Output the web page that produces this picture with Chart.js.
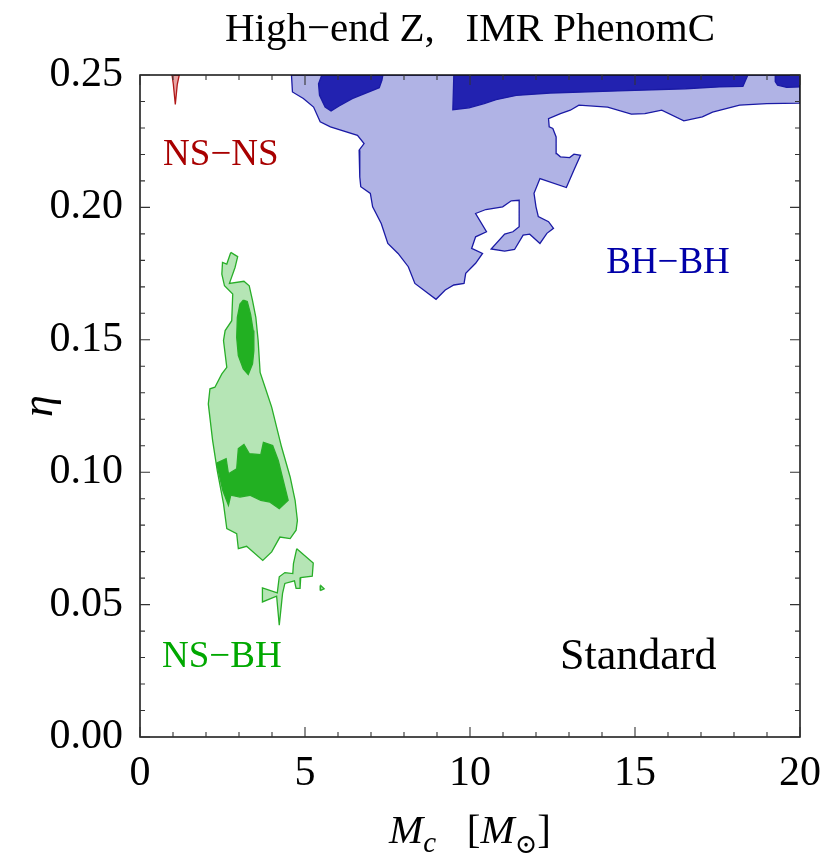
<!DOCTYPE html>
<html>
<head>
<meta charset="utf-8">
<script src="https://cdn.jsdelivr.net/npm/chart.js@4.4.1/dist/chart.umd.min.js"></script>
<style>
  html, body { margin: 0; padding: 0; background: #fff; }
</style>
</head>
<body>
<canvas id="contourChart" width="823" height="859"></canvas>
<script>
// axis ranges / tick spacing
var xMin = 0, xMax = 20, xMajor = 5, xMinor = 1;
var yMin = 0, yMax = 0.25, yMajor = 0.05, yMinor = 0.01;

// contour outlines, [Mc, eta]
var bhOuter = [
  [4.59,0.25],[4.62,0.2436],[4.95,0.2411],[5.26,0.2379],[5.46,0.2323],[5.77,0.2304],
  [6.59,0.2272],[6.79,0.2241],[6.64,0.2216],[6.66,0.2115],[6.69,0.2078],[6.98,0.2053],
  [7.05,0.2002],[7.31,0.1939],[7.51,0.1864],[7.82,0.1826],[8.13,0.1776],[8.33,0.1713],
  [8.97,0.1653],[9.25,0.1688],[9.51,0.1707],[9.82,0.1713],[9.87,0.1751],[10.17,0.1789],
  [10.38,0.1826],[10.05,0.1845],[10.17,0.1889],[10.50,0.1908],[10.17,0.1977],[10.48,0.1992],
  [10.99,0.2002],[11.25,0.2025],[11.49,0.2027],[11.49,0.1927],[11.30,0.1908],[11.05,0.1899],
  [10.64,0.1843],[11.05,0.1835],[11.35,0.1841],[11.61,0.1895],[11.81,0.1899],[12.12,0.1864],
  [12.33,0.1902],[12.53,0.1921],[12.38,0.1946],[12.07,0.1965],[12.00,0.2002],[11.94,0.2053],
  [12.12,0.2109],[12.92,0.2075],[13.15,0.2141],[13.35,0.2197],[13.15,0.2201],[13.02,0.2188],
  [12.74,0.2191],[12.63,0.2203],[12.61,0.2266],[12.51,0.2298],[12.40,0.2304],[12.38,0.2335],
  [12.74,0.2354],[13.04,0.2367],[13.30,0.2386],[14.17,0.2379],[14.89,0.2352],[15.30,0.2354],
  [15.81,0.2367],[16.48,0.2327],[17.04,0.2342],[17.35,0.2360],[18.17,0.2386],[18.99,0.2392],
  [20,0.2394],[20,0.25],[4.59,0.25]
];
var bhInnerA = [
  [5.51,0.25],[5.41,0.2467],[5.44,0.2423],[5.61,0.2379],[5.79,0.2364],[6.02,0.2382],
  [6.43,0.2411],[7.25,0.2452],[7.33,0.2480],[7.36,0.25],[5.51,0.25]
];
var bhInnerB = [
  [9.51,0.25],[9.48,0.2369],[9.97,0.2376],[10.43,0.2392],[10.79,0.2407],[11.40,0.2423],
  [12.43,0.2432],[14.48,0.2440],[16.53,0.2448],[17.55,0.2455],[18.27,0.2457],[18.42,0.25],[9.51,0.25]
];
var bhInnerC = [
  [19.27,0.25],[19.25,0.2475],[19.32,0.2462],[19.6,0.2453],[20,0.2455],[20,0.25],[19.27,0.25]
];
var nsnsOuter = [
  [0.97,0.25],[1.01,0.2465],[1.07,0.2389],[1.13,0.2465],[1.19,0.25],[0.97,0.25]
];
var nsbhOuterA = [
  [2.75,0.1830],[2.96,0.1814],[2.88,0.1773],[2.71,0.1713],[3.15,0.1721],[3.31,0.1704],
  [3.41,0.1648],[3.51,0.1585],[3.58,0.1497],[3.64,0.1377],[3.79,0.1321],[3.99,0.1246],
  [4.29,0.1095],[4.55,0.0982],[4.70,0.0894],[4.77,0.0818],[4.73,0.0781],[4.55,0.0749],
  [4.24,0.0755],[3.99,0.0699],[3.72,0.0667],[3.23,0.0720],[2.98,0.0711],[2.93,0.0768],
  [2.63,0.0787],[2.53,0.0881],[2.34,0.1007],[2.20,0.1120],[2.07,0.1258],[2.12,0.1315],
  [2.27,0.1321],[2.48,0.1371],[2.63,0.1396],[2.53,0.1497],[2.58,0.1535],[2.78,0.1572],
  [2.81,0.1673],[2.56,0.1704],[2.48,0.1748],[2.50,0.1792],[2.63,0.1786],[2.75,0.1830]
];
var nsbhOuterB = [
  [4.75,0.0711],[5.25,0.0657],[5.22,0.0607],[4.87,0.0602],[4.85,0.0561],[4.73,0.0561],
  [4.68,0.0590],[4.39,0.0580],[4.32,0.0542],[4.22,0.0422],[4.14,0.0532],[3.71,0.0510],
  [3.71,0.0563],[4.16,0.0544],[4.22,0.0605],[4.39,0.0621],[4.63,0.0617],[4.65,0.0655],[4.75,0.0711]
];
var nsbhOuterC = [
  [5.46,0.0553],[5.58,0.0560],[5.48,0.0572],[5.46,0.0553]
];
var nsbhInnerA = [
  [3.13,0.1650],[3.25,0.1645],[3.35,0.1597],[3.43,0.1535],[3.45,0.1459],[3.41,0.1409],
  [3.28,0.1369],[3.13,0.1390],[2.98,0.1440],[2.93,0.1509],[2.95,0.1585],[3.03,0.1635],[3.13,0.1650]
];
var nsbhInnerB = [
  [2.32,0.1034],[2.61,0.1051],[2.68,0.0994],[2.93,0.1013],[2.98,0.1089],[3.15,0.1105],
  [3.31,0.1070],[3.66,0.1066],[3.74,0.1113],[4.02,0.1101],[4.19,0.1044],[4.34,0.0969],
  [4.49,0.0894],[4.22,0.0862],[3.94,0.0887],[3.66,0.0894],[3.33,0.0913],[3.03,0.0906],
  [2.75,0.0913],[2.68,0.0875],[2.51,0.0931],[2.32,0.1034]
];

// text labels placed in data coordinates
var regionLabels = [
  { text: 'NS\u2212NS', x: 2.45, y: 0.2195, color: '#a80000' },
  { text: 'BH\u2212BH', x: 16.0, y: 0.179, color: '#0000a8' },
  { text: 'NS\u2212BH', x: 2.48, y: 0.030, color: '#00a800' },
  { text: 'Standard', x: 15.1, y: 0.030, color: '#000000' }
];
var titleText = 'High\u2212end Z,   IMR PhenomC';

var SERIF = '"Liberation Serif", "DejaVu Serif", serif';

function pts(arr) {
  return arr.map(function (p) { return { x: p[0], y: p[1] }; });
}

// order: lower value is drawn on top
function region(data, fillColor, lineColor, order) {
  return {
    data: pts(data),
    showLine: true,
    fill: 'shape',
    backgroundColor: fillColor,
    borderColor: lineColor,
    borderWidth: 1.3,
    pointRadius: 0,
    tension: 0,
    order: order
  };
}

var lightBlue = '#b0b3e5', darkBlue = '#2222b0', blueLine = '#1a1aa5';
var lightGreen = '#b5e5b5', darkGreen = '#22b022', greenLine = '#28ae28';
var lightRed = '#e8a4a4', redLine = '#b01818';

var decor = {
  id: 'decor',
  afterDraw: function (chart) {
    var ctx = chart.ctx, a = chart.chartArea;
    var xs = chart.scales.x, ys = chart.scales.y;
    ctx.save();
    // frame
    ctx.strokeStyle = '#111';
    ctx.lineWidth = 1.5;
    ctx.strokeRect(a.left, a.top, a.right - a.left, a.bottom - a.top);
    // inward ticks on all four sides
    ctx.lineWidth = 1.1;
    ctx.strokeStyle = '#333';
    ctx.beginPath();
    var i, v, p, len;
    for (i = 0; i <= Math.round((xMax - xMin) / xMinor); i++) {
      v = xMin + i * xMinor;
      p = xs.getPixelForValue(v);
      len = (i % (xMajor / xMinor) === 0) ? 10 : 5;
      ctx.moveTo(p, a.bottom); ctx.lineTo(p, a.bottom - len);
      ctx.moveTo(p, a.top); ctx.lineTo(p, a.top + len);
    }
    for (i = 0; i <= Math.round((yMax - yMin) / yMinor); i++) {
      v = yMin + i * yMinor;
      p = ys.getPixelForValue(v);
      len = (i % Math.round(yMajor / yMinor) === 0) ? 10 : 5;
      ctx.moveTo(a.left, p); ctx.lineTo(a.left + len, p);
      ctx.moveTo(a.right, p); ctx.lineTo(a.right - len, p);
    }
    ctx.stroke();

    // region labels
    ctx.textAlign = 'center';
    ctx.textBaseline = 'middle';
    regionLabels.forEach(function (l) {
      ctx.fillStyle = l.color;
      ctx.font = (l.text === 'Standard' ? '44px ' : '37px ') + SERIF;
      ctx.fillText(l.text, xs.getPixelForValue(l.x), ys.getPixelForValue(l.y));
    });

    // title
    ctx.fillStyle = '#000';
    ctx.font = '41px ' + SERIF;
    ctx.fillText(titleText, (a.left + a.right) / 2, 30);

    // x axis title: M_c  [M_sun]
    var parts = [
      { t: 'M', f: 'italic 41px ', dy: 0 },
      { t: 'c', f: 'italic 29px ', dy: 9 },
      { t: '   [', f: '41px ', dy: 0 },
      { t: 'M', f: 'italic 41px ', dy: 0 },
      { t: '\u2299', f: '27px ', dy: 10 },
      { t: ']', f: '41px ', dy: 0 }
    ];
    var total = 0;
    parts.forEach(function (q) { ctx.font = q.f + SERIF; q.w = ctx.measureText(q.t).width; total += q.w; });
    var x0 = (a.left + a.right) / 2 - total / 2;
    ctx.textAlign = 'left';
    ctx.textBaseline = 'alphabetic';
    parts.forEach(function (q) {
      ctx.font = q.f + SERIF;
      ctx.fillText(q.t, x0, 843 + q.dy);
      x0 += q.w;
    });

    // y axis title
    ctx.save();
    ctx.translate(40, (a.top + a.bottom) / 2);
    ctx.rotate(-Math.PI / 2);
    ctx.textAlign = 'center';
    ctx.textBaseline = 'middle';
    ctx.font = 'italic 44px ' + SERIF;
    ctx.fillText('\u03B7', 0, 0);
    ctx.restore();
    ctx.restore();
  }
};

var ctx = document.getElementById('contourChart');
var contourChart = new Chart(ctx, {
  type: 'scatter',
  data: {
    datasets: [
      region(bhOuter, lightBlue, blueLine, 2),
      region(bhInnerA, darkBlue, blueLine, 1),
      region(bhInnerB, darkBlue, blueLine, 1),
      region(bhInnerC, darkBlue, blueLine, 1),
      region(nsnsOuter, lightRed, redLine, 2),
      region(nsbhOuterA, lightGreen, greenLine, 2),
      region(nsbhOuterB, lightGreen, greenLine, 2),
      region(nsbhOuterC, lightGreen, greenLine, 2),
      region(nsbhInnerA, darkGreen, greenLine, 1),
      region(nsbhInnerB, darkGreen, greenLine, 1)
    ]
  },
  options: {
    responsive: false,
    animation: false,
    devicePixelRatio: 1,
    layout: { padding: { left: 0, right: 23, top: 75, bottom: 0 } },
    plugins: {
      legend: { display: false },
      tooltip: { enabled: false }
    },
    scales: {
      x: {
        type: 'linear',
        min: xMin, max: xMax,
        grid: { display: false },
        border: { display: false },
        ticks: {
          stepSize: xMajor,
          color: '#000',
          padding: 4,
          font: { family: SERIF, size: 42 },
          maxRotation: 0
        },
        afterFit: function (s) { s.height = 122; s.paddingLeft = 0; s.paddingRight = 0; }
      },
      y: {
        type: 'linear',
        min: yMin, max: yMax,
        grid: { display: false },
        border: { display: false },
        ticks: {
          stepSize: yMajor,
          color: '#000',
          padding: 9,
          font: { family: SERIF, size: 42 },
          callback: function (v) { return v.toFixed(2); }
        },
        afterFit: function (s) { s.width = 140; s.paddingTop = 0; s.paddingBottom = 0; }
      }
    }
  },
  plugins: [decor]
});
</script>
</body>
</html>
